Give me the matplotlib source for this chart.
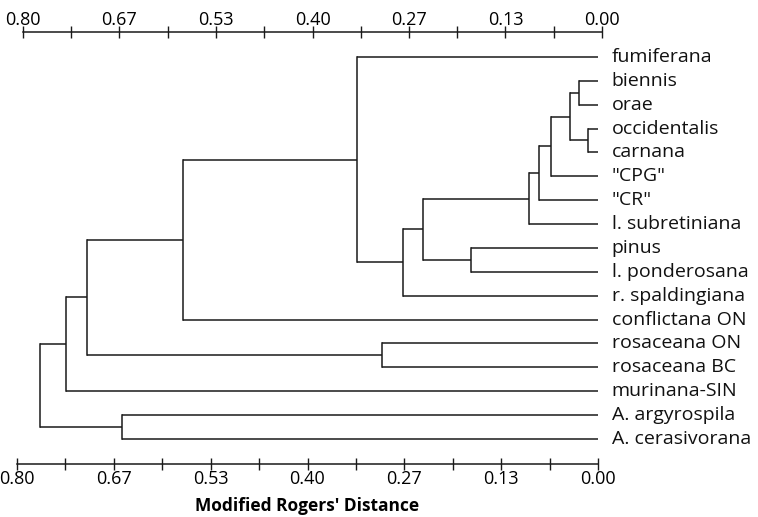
import matplotlib
matplotlib.use("Agg")
import matplotlib.pyplot as plt
import numpy as np

plt.rcParams['font.family'] = ['Open Sans', 'DejaVu Sans']

leaves = ["fumiferana", "biennis", "orae", "occidentalis", "carnana", '"CPG"', '"CR"',
          "l. subretiniana", "pinus", "l. ponderosana", "r. spaldingiana", "conflictana ON",
          "rosaceana ON", "rosaceana BC", "murinana-SIN", "A. argyrospila", "A. cerasivorana"]

# merges: new node ids start at len(leaves)
merge_left = [1, 3, 17, 19, 20, 21, 8, 22, 24, 0, 26, 12, 27, 29, 15, 30]
merge_right = [2, 4, 18, 5, 6, 7, 9, 23, 10, 25, 11, 13, 28, 14, 16, 31]
merge_height = [0.026, 0.014, 0.039, 0.065, 0.081, 0.095, 0.175, 0.241, 0.268,
                0.332, 0.572, 0.298, 0.703, 0.732, 0.655, 0.769]

tick_labels = ["0.80", "0.67", "0.53", "0.40", "0.27", "0.13", "0.00"]
axis_max = 0.8

W, H = 758, 517
fig = plt.figure(figsize=(W / 100, H / 100), dpi=100)

x0, x1 = 17, 598
ytop, ybot = 33, 464
ax = fig.add_axes([x0 / W, 1 - ybot / H, (x1 - x0) / W, (ybot - ytop) / H])
ax.set_xlim(axis_max, 0.0)
n = len(leaves)
ax.set_ylim(17.05, -1.0)

ypos = {i: float(i) for i in range(n)}
hpos = {i: 0.0 for i in range(n)}
lw = 1.1
col = "#1a1a1a"
for k, (a, b, h) in enumerate(zip(merge_left, merge_right, merge_height)):
    node = n + k
    ya, yb = ypos[a], ypos[b]
    ax.plot([hpos[a], h], [ya, ya], color=col, lw=lw, solid_capstyle='butt')
    ax.plot([hpos[b], h], [yb, yb], color=col, lw=lw, solid_capstyle='butt')
    ax.plot([h, h], [ya, yb], color=col, lw=lw, solid_capstyle='projecting')
    ypos[node] = (ya + yb) / 2
    hpos[node] = h

for i, name in enumerate(leaves):
    ax.text(-0.019, i, name, ha='left', va='center', fontsize=14, color='#111111',
            clip_on=False)

major = np.linspace(axis_max, 0.0, len(tick_labels))
minor = np.linspace(axis_max, 0.0, 2 * len(tick_labels) - 1)

for s in ['left', 'right', 'top']:
    ax.spines[s].set_visible(False)
ax.spines['bottom'].set_linewidth(1.1)
ax.spines['bottom'].set_color(col)
ax.set_yticks([])
ax.set_xticks(minor, minor=True)
ax.set_xticks(major)
ax.set_xticklabels(tick_labels, fontsize=13)
ax.tick_params(axis='x', which='both', direction='inout', length=9, width=1.0,
               color=col, pad=0)
ax.set_xlabel("Modified Rogers' Distance", fontsize=12.5, fontweight='bold', labelpad=6)

# top ruler
tx0, tx1 = 23, 602
axt = fig.add_axes([tx0 / W, 1 - ytop / H, (tx1 - tx0) / W, 0.001])
axt.set_xlim(axis_max, 0.0)
axt.patch.set_visible(False)
for s in ['left', 'right', 'bottom']:
    axt.spines[s].set_visible(False)
axt.spines['top'].set_linewidth(1.1)
axt.spines['top'].set_color(col)
axt.set_yticks([])
axt.xaxis.set_ticks_position('top')
axt.set_xticks(minor, minor=True)
axt.set_xticks(major)
axt.set_xticklabels(tick_labels, fontsize=13)
axt.tick_params(axis='x', which='both', direction='inout', length=9, width=1.0,
                color=col, pad=-2, top=True, bottom=False, labeltop=True, labelbottom=False)

fig.savefig("out.png", dpi=100)
